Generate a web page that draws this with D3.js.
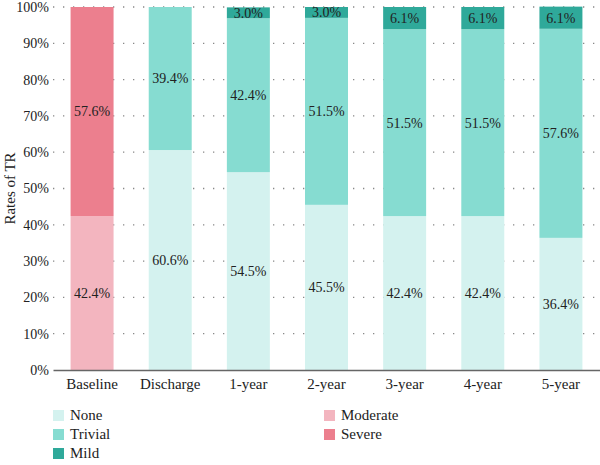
<!DOCTYPE html>
<html>
<head>
<meta charset="utf-8">
<script src="https://cdn.jsdelivr.net/npm/d3@7"></script>
<style>
body { margin: 0; background: #fff; }
svg text { font-family: "Liberation Serif", "DejaVu Serif", serif !important; fill: #222; }
</style>
</head>
<body>
<div id="chart"></div>
<script>
// data
var categories = ["Baseline", "Discharge", "1-year", "2-year", "3-year", "4-year", "5-year"];
var seriesNames = ["None", "Trivial", "Mild", "Moderate", "Severe"];
var noneVals = [0, 60.6, 54.5, 45.5, 42.4, 42.4, 36.4];
var trivialVals = [0, 39.4, 42.4, 51.5, 51.5, 51.5, 57.6];
var mildVals = [0, 0, 3.0, 3.0, 6.1, 6.1, 6.1];
var moderateVals = [42.4, 0, 0, 0, 0, 0, 0];
var severeVals = [57.6, 0, 0, 0, 0, 0, 0];
var yTicks = [0, 10, 20, 30, 40, 50, 60, 70, 80, 90, 100];

var colors = ["#d4f2ef", "#86dcd1", "#2fa99a", "#f3b5bf", "#ec7f8e"];

var svgWidth = 600;
var svgHeight = 465;
var margin = { top: 7, right: 0, bottom: 95, left: 53 };
var width = svgWidth - margin.left - margin.right;
var height = svgHeight - margin.top - margin.bottom;

var svg = d3.select("#chart")
    .append("svg")
    .attr("width", svgWidth)
    .attr("height", svgHeight)
    .attr("font-family", "Liberation Serif, serif");

var chartGroup = svg.append("g")
    .attr("transform", `translate(${margin.left}, ${margin.top})`);

// build rows for the stack
var allVals = [noneVals, trivialVals, mildVals, moderateVals, severeVals];
var rows = categories.map(function(c, i) {
    var row = { cat: c };
    seriesNames.forEach(function(s, j) { row[s] = allVals[j][i]; });
    return row;
});

var stacked = d3.stack().keys(seriesNames)(rows);

var xScale = d3.scaleBand()
    .domain(categories)
    .range([0, width])
    .paddingInner(0.45)
    .paddingOuter(0.225);

var yScale = d3.scaleLinear()
    .domain([0, 100])
    .range([height, 0]);

// dotted gridlines
chartGroup.append("g")
    .selectAll("line")
    .data(yTicks.filter(d => d > 0))
    .enter()
    .append("line")
    .attr("x1", 0)
    .attr("x2", width)
    .attr("y1", d => yScale(d))
    .attr("y2", d => yScale(d))
    .attr("stroke", "#888")
    .attr("stroke-width", 1.3)
    .attr("stroke-dasharray", "1.3,8.7");

// bars
var layers = chartGroup.selectAll(".layer")
    .data(stacked)
    .enter()
    .append("g")
    .attr("fill", (d, i) => colors[i]);

layers.selectAll("rect")
    .data(d => d.filter(p => p[1] - p[0] > 0))
    .enter()
    .append("rect")
    .attr("x", d => xScale(d.data.cat))
    .attr("width", xScale.bandwidth())
    .attr("y", d => yScale(d[1]))
    .attr("height", d => yScale(d[0]) - yScale(d[1]));

// value labels
layers.selectAll("text")
    .data(d => d.filter(p => p[1] - p[0] > 0))
    .enter()
    .append("text")
    .attr("x", d => xScale(d.data.cat) + xScale.bandwidth() / 2)
    .attr("y", d => yScale((d[0] + d[1]) / 2))
    .attr("dy", "0.35em")
    .attr("text-anchor", "middle")
    .style("font-size", "14px")
    .text(d => (d[1] - d[0]).toFixed(1) + "%");

// y axis labels
chartGroup.append("g")
    .selectAll("text")
    .data(yTicks)
    .enter()
    .append("text")
    .attr("x", -4)
    .attr("y", d => yScale(d))
    .attr("dy", "0.35em")
    .attr("text-anchor", "end")
    .style("font-size", "14px")
    .text(d => d + "%");

// x axis
var xAxis = chartGroup.append("g")
    .attr("transform", `translate(0, ${height})`)
    .call(d3.axisBottom(xScale).tickSize(0).tickPadding(8));
xAxis.attr("font-family", null);
xAxis.select(".domain").attr("stroke", "#666").attr("stroke-width", 1.5);
xAxis.selectAll("text")
    .style("font-size", "15px")
    .attr("fill", "#222");

// y axis title
svg.append("text")
    .attr("transform", `translate(15, ${margin.top + height / 2}) rotate(-90)`)
    .attr("text-anchor", "middle")
    .style("font-size", "15px")
    .text("Rates of TR");

// legend
var legendPos = [[53, 415], [53, 434], [53, 453], [324, 415], [324, 434]];
var legend = svg.append("g")
    .selectAll("g")
    .data(seriesNames)
    .enter()
    .append("g")
    .attr("transform", (d, i) => `translate(${legendPos[i][0]}, ${legendPos[i][1]})`);

legend.append("rect")
    .attr("x", 0)
    .attr("y", -5)
    .attr("width", 11)
    .attr("height", 11)
    .attr("fill", (d, i) => colors[i]);

legend.append("text")
    .attr("x", 17)
    .attr("y", 0)
    .attr("dy", "0.35em")
    .style("font-size", "15px")
    .text(d => d);
</script>
</body>
</html>
